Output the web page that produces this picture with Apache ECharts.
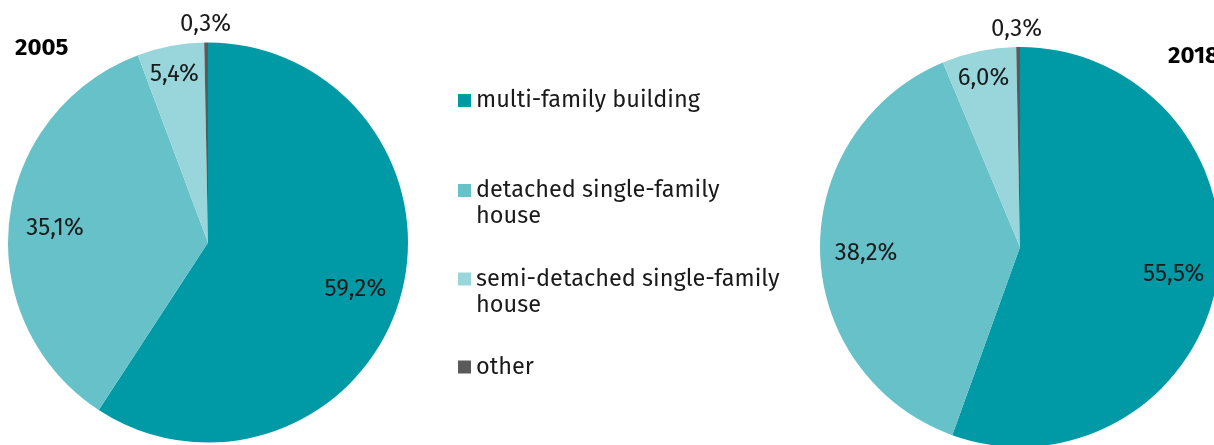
<!DOCTYPE html>
<html>
<head>
<meta charset="utf-8">
<script src="https://cdn.jsdelivr.net/npm/echarts@6/dist/echarts.min.js"></script>
<style>
html,body{margin:0;padding:0;background:#fff;}
#chart{width:1214px;height:445px;}
</style>
</head>
<body>
<div id="chart"></div>
<script>
const categories = ['multi-family building', 'detached single-family house', 'semi-detached single-family house', 'other'];
const legendLabels = ['multi-family building', '\ndetached single-family\nhouse', '\nsemi-detached single-family\nhouse', 'other'];
const years = ['2005', '2018'];
const values2005 = [59.2, 35.1, 5.4, 0.3];
const values2018 = [55.5, 38.2, 6.0, 0.3];

const colors = ['#009AA6', '#66C1C9', '#99D6DB', '#5A5A5A'];
const FONT = '"Fira Sans", "Open Sans", "Noto Sans", sans-serif';
const TXT = '#1a1a1a';
const fmt = v => v.toFixed(1).replace('.', ',') + '%';

const centers = [[208, 242.5], [1020, 247]];

function baseSeries(vals, idx) {
  return {
    type: 'pie',
    name: years[idx],
    center: centers[idx],
    radius: [0, 200],
    startAngle: 90,
    clockwise: true,
    avoidLabelOverlap: false,
    label: { show: false },
    labelLine: { show: false },
    emphasis: { disabled: true },
    itemStyle: { borderWidth: 0 },
    data: categories.map((c, i) => ({ name: c, value: vals[i], itemStyle: { color: colors[i] } }))
  };
}
function labelSeries(vals, idx, offsets) {
  return {
    type: 'pie',
    name: years[idx] + ' labels',
    center: centers[idx],
    radius: [110, 200],
    startAngle: 90,
    clockwise: true,
    silent: true,
    avoidLabelOverlap: false,
    emphasis: { disabled: true },
    itemStyle: { color: 'rgba(0,0,0,0)', borderWidth: 0 },
    labelLine: { show: false },
    label: {
      show: true,
      position: 'inside',
      fontFamily: FONT,
      fontSize: 24,
      color: TXT,
      formatter: p => fmt(p.value)
    },
    data: categories.map((c, i) => ({
      name: c, value: vals[i],
      label: { offset: offsets[i] },
      itemStyle: { color: 'rgba(0,0,0,0)' }
    }))
  };
}

const legendTops = [87.5, 151.5, 240, 354];
const legends = categories.map((c, i) => ({
  orient: 'vertical',
  left: 458,
  top: legendTops[i],
  padding: 0,
  itemWidth: 13,
  itemHeight: 13,
  icon: 'rect',
  selectedMode: false,
  data: [c],
  formatter: name => legendLabels[categories.indexOf(name)],
  textStyle: { fontFamily: FONT, fontSize: 23.5, color: TXT, lineHeight: 26 }
}));

const chart = echarts.init(document.getElementById('chart'), null, { renderer: 'canvas' });
chart.setOption({
  animation: false,
  backgroundColor: '#ffffff',
  color: colors,
  title: [
    { text: years[0], left: 15, top: 36, padding: 0, textStyle: { fontFamily: FONT, fontSize: 24, fontWeight: 'bold', color: '#000' } },
    { text: years[1], left: 1168, top: 44, padding: 0, textStyle: { fontFamily: FONT, fontSize: 24, fontWeight: 'bold', color: '#000' } }
  ],
  legend: legends,
  series: [
    baseSeries(values2005, 0),
    baseSeries(values2018, 1),
    labelSeries(values2005, 0, [[-4, 2], [4, 3], [-4, -13], [-1, -60.5]]),
    labelSeries(values2018, 1, [[-2, 0], [4, 2], [-4, -14], [-2, -60]])
  ]
});
</script>
</body>
</html>
